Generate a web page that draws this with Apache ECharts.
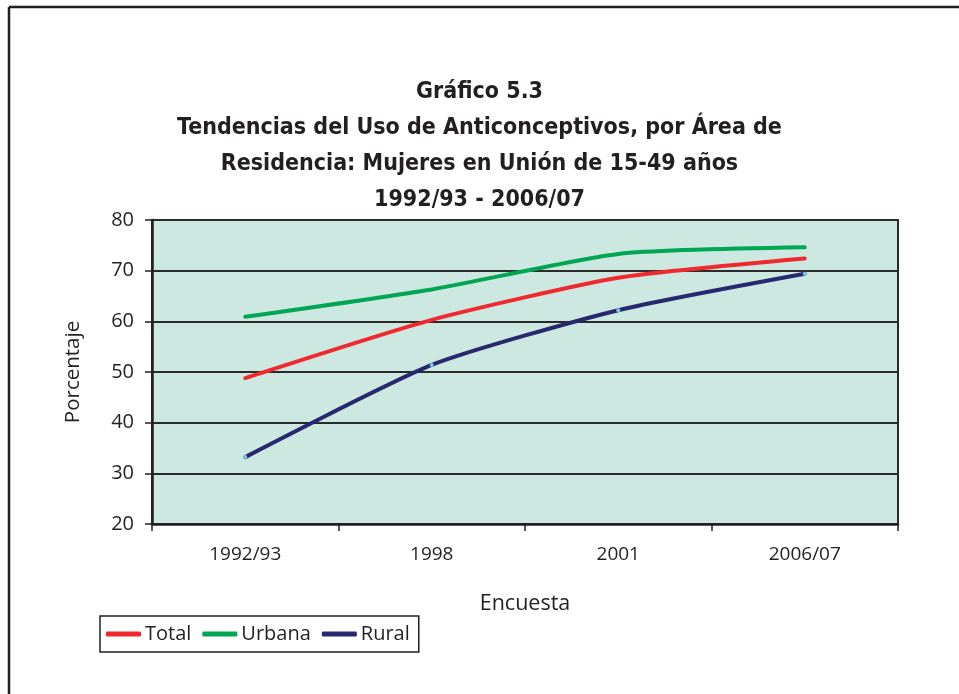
<!DOCTYPE html>
<html><head><meta charset="utf-8">
<script src="https://cdn.jsdelivr.net/npm/echarts@6/dist/echarts.min.js"></script>
<style>html,body{margin:0;padding:0;background:#fff}#c{width:959px;height:694px}</style>
</head><body><div id="c"></div>
<script>
const categories = ['1992/93', '1998', '2001', '2006/07'];
const totalValues = [48.8, 60.3, 68.6, 72.4];
const urbanaValues = [60.9, 66.3, 73.3, 74.6];
const ruralValues = [33.2, 51.4, 62.2, 69.4];
const seriesNames = ['Total', 'Urbana', 'Rural'];
const titleText = 'Gráfico 5.3\nTendencias del Uso de Anticonceptivos, por Área de\nResidencia: Mujeres en Unión de 15-49 años\n1992/93 - 2006/07';

const TFONT = '"DejaVu Sans Condensed", "Liberation Sans Narrow", sans-serif';
const FONT = '"Open Sans", "Noto Sans", sans-serif';
const INK = '#231f20';
const RED = '#ee2a2e', GREEN = '#00a651', NAVY = '#27286e';
const chart = echarts.init(document.getElementById('c'), null, {renderer: 'canvas'});
chart.setOption({
  animation: false,
  backgroundColor: '#fff',
  title: {
    text: titleText, left: 'center', top: 69,
    textStyle: {fontFamily: TFONT, fontSize: 23, fontWeight: 'bold', color: INK, lineHeight: 36}
  },
  graphic: [
    {type: 'line', shape: {x1: 9, y1: 7, x2: 959, y2: 7}, style: {stroke: INK, lineWidth: 2.5}},
    {type: 'line', shape: {x1: 9, y1: 7, x2: 9, y2: 694}, style: {stroke: INK, lineWidth: 2.5}}
  ],
  legend: {
    data: [
      {name: seriesNames[0], icon: 'roundRect', itemStyle: {color: RED}},
      {name: seriesNames[1], icon: 'roundRect', itemStyle: {color: GREEN}},
      {name: seriesNames[2], icon: 'roundRect', itemStyle: {color: NAVY}}
    ],
    left: 100, top: 616, orient: 'horizontal',
    borderColor: INK, borderWidth: 1.5, borderRadius: 0, padding: [8, 9, 8, 6],
    itemWidth: 35, itemHeight: 5, itemGap: 11,
    textStyle: {fontFamily: FONT, fontSize: 20, color: INK, padding: [0, 0, 0, -1]}
  },
  grid: {
    left: 152, right: 61, top: 220, bottom: 170, show: true,
    backgroundColor: '#cde8e1', borderColor: '#2b2b2b', borderWidth: 2
  },
  xAxis: {
    type: 'category', data: categories, boundaryGap: true,
    name: 'Encuesta', nameLocation: 'middle', nameGap: 69,
    nameTextStyle: {fontFamily: FONT, fontSize: 21.5, color: INK},
    axisLine: {lineStyle: {color: INK, width: 2.5}},
    axisTick: {show: true, inside: false, length: 7, lineStyle: {color: INK, width: 1.5}},
    axisLabel: {fontFamily: FONT, fontSize: 19, color: INK, margin: 21},
    splitLine: {show: false}
  },
  yAxis: {
    type: 'value', min: 20, max: 80, interval: 10,
    name: 'Porcentaje', nameLocation: 'middle', nameGap: 68, nameRotate: 90,
    nameTextStyle: {fontFamily: FONT, fontSize: 20.5, color: INK},
    axisLine: {show: true, lineStyle: {color: INK, width: 2.5}},
    axisTick: {show: true, inside: false, length: 7, lineStyle: {color: INK, width: 1.5}},
    axisLabel: {fontFamily: FONT, fontSize: 20, color: INK, margin: 18},
    splitLine: {show: true, lineStyle: {color: '#2b2b2b', width: 1.8}}
  },
  series: [
    {name: seriesNames[0], type: 'line', data: totalValues, smooth: 0.2,
     showSymbol: false, symbol: 'none', color: RED, lineStyle: {width: 4, color: RED, cap: 'round'}},
    {name: seriesNames[1], type: 'line', data: urbanaValues, smooth: 0.2,
     showSymbol: false, symbol: 'none', color: GREEN, lineStyle: {width: 4, color: GREEN, cap: 'round'}},
    {name: seriesNames[2], type: 'line', data: ruralValues, smooth: 0.2,
     symbol: 'circle', symbolSize: 4, showSymbol: true, color: NAVY,
     itemStyle: {color: '#7cc7ea', borderWidth: 0},
     lineStyle: {width: 4, color: NAVY, cap: 'round'}}
  ]
});
</script></body></html>
